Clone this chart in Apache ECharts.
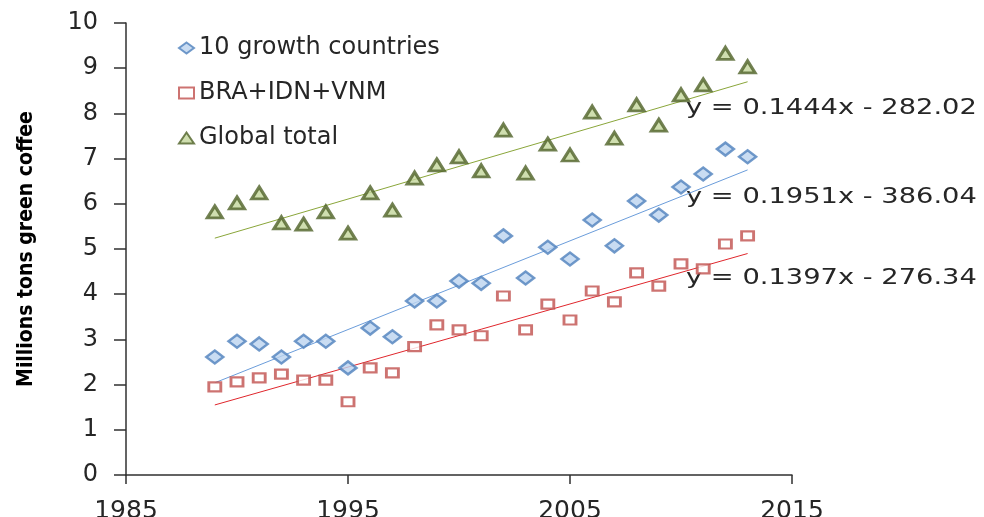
<!DOCTYPE html>
<html>
<head>
<meta charset="utf-8">
<script src="https://cdn.jsdelivr.net/npm/echarts@6/dist/echarts.min.js"></script>
<style>
html,body{margin:0;padding:0;background:#fff;}
#chart{width:984px;height:517px;}
</style>
</head>
<body>
<div id="chart"></div>
<script>
// years on the x axis
let years = [1989,1990,1991,1992,1993,1994,1995,1996,1997,1998,1999,2000,2001,
             2002,2003,2004,2005,2006,2007,2008,2009,2010,2011,2012,2013]
// millions tons green coffee
let growth10 = [2.61,2.96,2.90,2.61,2.96,2.96,2.37,3.25,3.06,3.85,3.85,4.29,4.24,
                5.29,4.36,5.04,4.78,5.64,5.07,6.06,5.75,6.37,6.66,7.21,7.04]
let braIdnVnm = [1.95,2.06,2.15,2.23,2.10,2.10,1.62,2.37,2.26,2.84,3.32,3.21,3.08,
                 3.96,3.21,3.78,3.43,4.07,3.83,4.47,4.18,4.67,4.56,5.11,5.29]
let globalTotal = [5.82,6.02,6.24,5.58,5.55,5.82,5.35,6.24,5.86,6.57,6.86,7.04,6.73,
                   7.63,6.68,7.32,7.08,8.03,7.45,8.19,7.74,8.41,8.63,9.33,9.03]
// trend line ends (first year, last year)
let trendYears = [1989, 2013]
let trendGrowth = [2.04, 6.75]
let trendBra = [1.55, 4.90]
let trendGlobal = [5.24, 8.70]
let equations = ['y = 0.1444x - 282.02', 'y = 0.1951x - 386.04', 'y = 0.1397x - 276.34']

function pairs(xs, ys){
    let out = []
    for(let i in xs){
        out.push([xs[i], ys[i]])
    }
    return out
}

let myChart = echarts.init(document.getElementById('chart'))
let font = 'DejaVu Sans'
// the source picture is stretched sideways, so the equations are too
function eqText(txt, top){
    return {
        type:'text', x:686, y:top, scaleX:1.3,
        style:{text:txt, fontFamily:font, fontSize:21, fill:'#262626'}
    }
}
let option = {
    animation:false,
    backgroundColor:'#ffffff',
    grid:{left:126, top:23, right:192, bottom:42, outerBoundsMode:'none'},
    legend:{
        orient:'vertical',
        left:173,
        top:31,
        itemGap:21,
        itemWidth:15,
        itemHeight:11,
        textStyle:{fontFamily:font, fontSize:24, color:'#262626'},
        data:['10 growth countries','BRA+IDN+VNM','Global total']
    },
    xAxis:{
        type:'value',
        min:1985,
        max:2015,
        interval:10,
        splitLine:{show:false},
        axisLine:{onZero:false, lineStyle:{color:'#303030', width:1.5}},
        axisTick:{show:true, length:9, lineStyle:{color:'#303030', width:1.5}},
        axisLabel:{
            margin:24, fontFamily:font, fontSize:25, color:'#262626',
            formatter:function(v){ return String(v) }
        }
    },
    yAxis:{
        type:'value',
        min:0,
        max:10,
        interval:1,
        name:'Millions tons green coffee',
        nameLocation:'middle',
        nameGap:89,
        nameTextStyle:{fontFamily:'DejaVu Sans Condensed', fontWeight:'bold', fontSize:21, color:'#000'},
        splitLine:{show:false},
        axisLine:{show:true, lineStyle:{color:'#303030', width:1.5}},
        axisTick:{show:true, length:12, lineStyle:{color:'#303030', width:1.5}},
        axisLabel:{margin:28, fontFamily:font, fontSize:24, color:'#262626'}
    },
    graphic:[
        eqText(equations[0], 98),
        eqText(equations[1], 187),
        eqText(equations[2], 268)
    ],
    series:[
        {
            name:'trend growth', type:'line', data:pairs(trendYears, trendGrowth),
            symbol:'none', lineStyle:{color:'#6b9ddb', width:1}, z:1
        },
        {
            name:'trend bra', type:'line', data:pairs(trendYears, trendBra),
            symbol:'none', lineStyle:{color:'#e0262c', width:1}, z:1
        },
        {
            name:'trend global', type:'line', data:pairs(trendYears, trendGlobal),
            symbol:'none', lineStyle:{color:'#8aa63a', width:1}, z:1
        },
        {
            name:'10 growth countries', type:'scatter', data:pairs(years, growth10),
            symbol:'diamond', symbolSize:[17,13],
            itemStyle:{color:'#bcd3ef', borderColor:'#4f81bd', borderWidth:2.5}, z:3
        },
        {
            name:'BRA+IDN+VNM', type:'scatter', data:pairs(years, braIdnVnm),
            symbol:'rect', symbolSize:[12,9],
            itemStyle:{color:'#ffffff', borderColor:'#c0504d', borderWidth:2.5}, z:3
        },
        {
            name:'Global total', type:'scatter', data:pairs(years, globalTotal),
            symbol:'triangle', symbolSize:[15,12],
            itemStyle:{color:'#c3d69b', borderColor:'#4f6228', borderWidth:3}, z:3
        }
    ]
}
myChart.setOption(option)
</script>
</body>
</html>
